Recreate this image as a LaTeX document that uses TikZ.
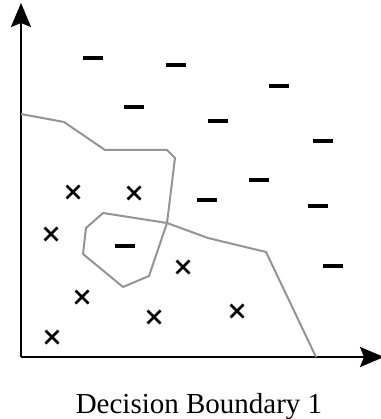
\documentclass[tikz,border=0pt]{standalone}
\usepackage{fontspec}
\setmainfont{Liberation Serif}
\usetikzlibrary{arrows.meta}
\tikzset{
  axisline/.style={line width=2.2pt, -{Stealth[length=24pt,width=20pt,inset=4pt]}},
  boundary/.style={draw=black!42, line width=2pt, line join=round},
  negmark/.style={line width=3.2pt},
  posmark/.style={line width=2.8pt},
}
\newcommand{\negat}[2]{\draw[negmark] (#1-10,#2) -- (#1+10,#2);}
\newcommand{\posat}[2]{\draw[posmark] (#1-6.5,#2-6.5) -- (#1+6.5,#2+6.5) (#1-6.5,#2+6.5) -- (#1+6.5,#2-6.5);}
\begin{document}
\begin{tikzpicture}[x=1pt,y=-1pt]
\useasboundingbox (0,0) rectangle (380,419);
% axes
\coordinate (O) at (21,357);
\coordinate (ytop) at (21,3);
\coordinate (xend) at (384,357);
\draw[axisline] (O) -- (ytop);
\draw[axisline] (O) -- (xend);
% boundary
\coordinate (c) at (167,223);
\draw[boundary] (21,114) -- (64,122) -- (105,150) -- (167,150) -- (175,158) -- (c);
\draw[boundary] (c) -- (103,213) -- (86,228) -- (83,254) -- (123,287) -- (149,276) -- cycle;
\draw[boundary] (c) -- (208,238) -- (266,252) -- (316,357);
% negatives
\negat{93}{58}
\negat{176}{65}
\negat{134}{107}
\negat{279}{86}
\negat{218}{121}
\negat{323}{141}
\negat{259}{180}
\negat{207}{200}
\negat{318}{206}
\negat{333}{266}
\negat{125}{246}
% positives
\posat{73}{192}
\posat{134}{193}
\posat{51}{234}
\posat{183}{267}
\posat{82}{297}
\posat{154}{317}
\posat{52}{337}
\posat{237}{311}
% caption
\node[font=\fontsize{29}{33}\selectfont, anchor=base, inner sep=0pt] (cap) at (199,413) {Decision Boundary 1};
\end{tikzpicture}
\end{document}
